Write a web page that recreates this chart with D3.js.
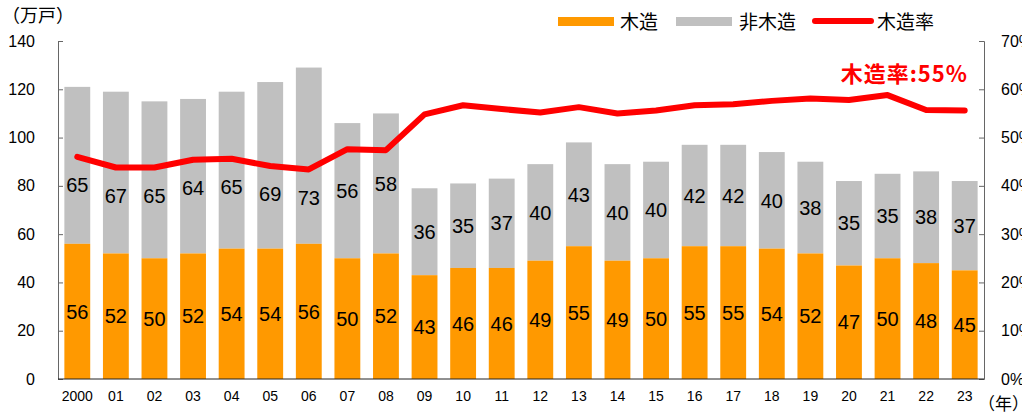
<!DOCTYPE html>
<html lang="ja">
<head>
<meta charset="UTF-8">
<title>木造率</title>
<style>
  body { margin: 0; background: #fff; }
  svg { display: block; font-family: "Liberation Sans", Arial, "Noto Sans CJK JP", sans-serif; }
  .axis text { font-size: 16px; fill: #000; }
  .xaxis text { font-size: 14px; fill: #000; }
  .val { font-size: 20px; fill: #000; text-anchor: middle; }
  .jp { font-family: "Noto Sans CJK JP", sans-serif; }
</style>
</head>
<body>
<svg id="chart"></svg>
<script src="https://cdnjs.cloudflare.com/ajax/libs/d3/7.9.0/d3.min.js"></script>
<script>
// data
const years = ["2000","01","02","03","04","05","06","07","08","09","10","11",
               "12","13","14","15","16","17","18","19","20","21","22","23"];
const wood    = [56,52,50,52,54,54,56,50,52,43,46,46,49,55,49,50,55,55,54,52,47,50,48,45];
const nonwood = [65,67,65,64,65,69,73,56,58,36,35,37,40,43,40,40,42,42,40,38,35,35,38,37];
const rate    = [46.0,43.8,43.8,45.4,45.6,44.1,43.4,47.6,47.4,54.8,56.7,55.9,
                 55.2,56.3,55.0,55.6,56.7,56.9,57.6,58.1,57.8,58.8,55.7,55.6];
const leftTicks  = [0,20,40,60,80,100,120,140];
const rightTicks = [0,10,20,30,40,50,60,70];
const note = "木造率:55%";

const W = 1022, H = 414;
const m = {left: 58, right: 38, top: 41, bottom: 35};
const svg = d3.select("#chart").attr("width", W).attr("height", H);

const x = d3.scaleBand().domain(years)
  .range([m.left, W - m.right]).paddingInner(0.33).paddingOuter(0.165);
const y = d3.scaleLinear().domain([0, 140]).range([H - m.bottom, m.top]);
const yr = d3.scaleLinear().domain([0, 70]).range([H - m.bottom, m.top]);

const colWood = "#ff9900", colNon = "#c0c0c0", colRate = "#ff0000";

// bars
const g = svg.append("g");
years.forEach((yrs, i) => {
  const x0 = x(yrs), bw = x.bandwidth();
  g.append("rect").attr("x", x0).attr("width", bw)
    .attr("y", y(wood[i] + nonwood[i])).attr("height", y(wood[i]) - y(wood[i] + nonwood[i]))
    .attr("fill", colNon);
  g.append("rect").attr("x", x0).attr("width", bw)
    .attr("y", y(wood[i])).attr("height", y(0) - y(wood[i]))
    .attr("fill", colWood);
});

// axes
const yAxis = svg.append("g").attr("class", "axis")
  .attr("transform", `translate(${m.left},0)`)
  .call(d3.axisRight(y).tickValues(leftTicks).tickSize(5).tickFormat(d3.format("d")));
yAxis.selectAll("text").attr("x", -23).attr("text-anchor", "end");

const yrAxis = svg.append("g").attr("class", "axis")
  .attr("transform", `translate(${W - m.right},0)`)
  .call(d3.axisLeft(yr).tickValues(rightTicks).tickSize(5).tickFormat(d => d + "%"));
yrAxis.selectAll("text").attr("x", 17).attr("text-anchor", "start");

[yAxis, yrAxis].forEach(a => {
  a.select(".domain").attr("stroke", "#666");
  a.selectAll(".tick line").attr("stroke", "#666");
});

const xAxis = svg.append("g").attr("class", "xaxis")
  .attr("transform", `translate(0,${H - m.bottom})`)
  .call(d3.axisBottom(x).tickSize(0).tickPadding(12));
xAxis.select(".domain").attr("stroke", "#222").attr("d", `M${m.left},0H${W - m.right}`);

// rate line
const line = d3.line().x((d, i) => x(years[i]) + x.bandwidth() / 2).y(d => yr(d));
svg.append("path").datum(rate).attr("d", line)
  .attr("fill", "none").attr("stroke", colRate).attr("stroke-width", 6)
  .attr("stroke-linejoin", "round").attr("stroke-linecap", "round");

// value labels
years.forEach((yrs, i) => {
  const cx = x(yrs) + x.bandwidth() / 2;
  svg.append("text").attr("class", "val").attr("x", cx)
    .attr("y", (y(0) + y(wood[i])) / 2).attr("dy", "0.36em").text(wood[i]);
  // keep the non-wood label below the rate line
  const mid = (y(wood[i]) + y(wood[i] + nonwood[i])) / 2;
  const ly = Math.max(mid, yr(rate[i]) + 28);
  svg.append("text").attr("class", "val").attr("x", cx)
    .attr("y", ly).attr("dy", "0.36em").text(nonwood[i]);
});

// annotation
svg.append("text").attr("class", "jp").attr("x", 968).attr("y", 82)
  .attr("text-anchor", "end").attr("font-size", 22).attr("font-weight", "bold")
  .attr("letter-spacing", 1).attr("fill", colRate).text(note);

// unit labels
svg.append("text").attr("class", "jp").attr("x", 2).attr("y", 22)
  .attr("font-size", 18).text("（万戸）");
svg.append("text").attr("class", "jp").attr("x", 978).attr("y", 410)
  .attr("font-size", 17).text("（年）");

// legend
const lg = svg.append("g").attr("class", "jp").attr("font-size", 19);
lg.append("rect").attr("x", 558).attr("y", 17).attr("width", 56).attr("height", 9).attr("fill", colWood);
lg.append("text").attr("x", 620).attr("y", 29).text("木造");
lg.append("rect").attr("x", 676).attr("y", 17).attr("width", 56).attr("height", 9).attr("fill", colNon);
lg.append("text").attr("x", 739).attr("y", 29).text("非木造");
lg.append("line").attr("x1", 815).attr("x2", 871).attr("y1", 21).attr("y2", 21)
  .attr("stroke", colRate).attr("stroke-width", 6).attr("stroke-linecap", "round");
lg.append("text").attr("x", 877).attr("y", 29).text("木造率");
</script>
</body>
</html>
